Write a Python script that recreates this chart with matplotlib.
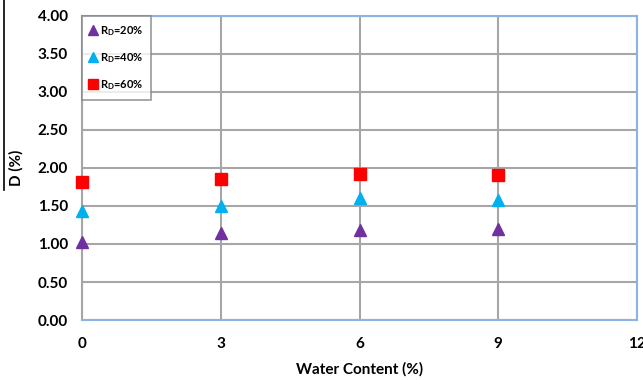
import matplotlib.pyplot as plt
from matplotlib.lines import Line2D

plt.rcParams['font.family'] = ['Lato', 'DejaVu Sans']

# 데이터
water = [0, 3, 6, 9]
d_20 = [1.03, 1.15, 1.18, 1.20]
d_40 = [1.43, 1.50, 1.60, 1.58]
d_60 = [1.82, 1.86, 1.92, 1.91]
xticks = [0, 3, 6, 9, 12]
yticks = [0, 0.5, 1.0, 1.5, 2.0, 2.5, 3.0, 3.5, 4.0]

fig = plt.figure(figsize=(6.43, 3.80), dpi=100)
ax = fig.add_axes([82/643, 1 - 320/380, (637-82)/643, (320-16)/380])

ax.plot(water, d_20, '^', color='#7030A0', ms=9, ls='none', clip_on=False, zorder=5,
        label=r'R$_\mathregular{D}$=20%')
ax.plot(water, d_40, '^', color='#00B0F0', ms=9, ls='none', clip_on=False, zorder=5,
        label=r'R$_\mathregular{D}$=40%')
ax.plot(water, d_60, 's', color='#FF0000', ms=9, ls='none', clip_on=False, zorder=5,
        label=r'R$_\mathregular{D}$=60%')

ax.set_xlim(0, 12)
ax.set_ylim(0, 4)
ax.set_xticks(xticks)
ax.set_yticks(yticks)
ax.set_yticklabels(['%.2f' % v for v in yticks])
ax.grid(True, color='#A6A6A6', lw=1.5)
ax.set_axisbelow(True)
ax.tick_params(length=0, labelsize=11)
ax.tick_params(axis='x', pad=12)
ax.tick_params(axis='y', pad=10)
for lab in ax.get_xticklabels() + ax.get_yticklabels():
    lab.set_fontweight('bold')

for s in ['top', 'right', 'bottom']:
    ax.spines[s].set_color('#8DB3E2')
    ax.spines[s].set_linewidth(1.5)
ax.spines['left'].set_color('#A6A6A6')
ax.spines['left'].set_linewidth(1.5)

ax.set_xlabel('Water Content (%)', fontsize=11, fontweight='bold', labelpad=8)
ax.set_ylabel('D (%)', fontsize=11, fontweight='bold', labelpad=10)

leg = ax.legend(loc='upper left', bbox_to_anchor=(0, 1), fontsize=8, frameon=True,
                fancybox=False, edgecolor='#808080', handlelength=0.5, handletextpad=0.4,
                borderpad=0.7, labelspacing=1.2, borderaxespad=0, markerscale=0.75)
leg.get_frame().set_linewidth(1.2)
for t in leg.get_texts():
    t.set_fontweight('bold')

# 왼쪽 세로선
fig.add_artist(Line2D([4/643, 4/643], [1, 1 - 190/380], color='black', lw=1.2))

fig.savefig('out.png', dpi=100)
